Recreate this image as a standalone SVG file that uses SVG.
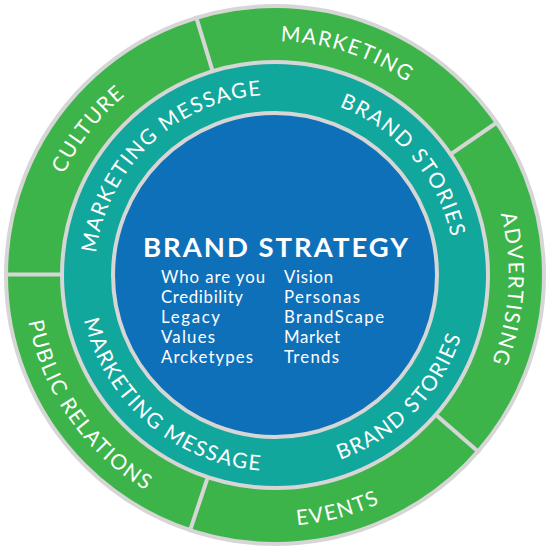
<svg xmlns="http://www.w3.org/2000/svg" xmlns:xlink="http://www.w3.org/1999/xlink" width="550" height="553" viewBox="0 0 550 553">
<style>
.ring{stroke:#d6d6d6;stroke-width:4}
.div{stroke:#d6d6d6;stroke-width:4;fill:none}
.lbl{font-family:Lato,"Open Sans","Liberation Sans",sans-serif;font-size:21px;fill:#ffffff;letter-spacing:1.5px}
.title{font-family:Lato,"Open Sans","Liberation Sans",sans-serif;font-size:27.5px;font-weight:bold;fill:#ffffff}
.item{font-family:Lato,"Open Sans","Liberation Sans",sans-serif;font-size:16.8px;fill:#ffffff}
</style>
<defs>
<path id="pMarketing" d="M59.6,183.6 A234,234 0 0 1 503.0,327.6"/>
<path id="pCulture" d="M115.4,446.1 A234,234 0 0 1 402.4,78.7"/>
<path id="pAdvertising" d="M309.6,43.6 A234,234 0 0 1 281.1,508.9"/>
<path id="pPublic" d="M113.7,82.7 A251,251 0 0 0 400.5,492.4"/>
<path id="pEvents" d="M39.1,360.8 A251,251 0 0 0 522.2,231.4"/>
<path id="pMsgTop" d="M134.1,387.1 A180,180 0 0 1 394.3,140.2"/>
<path id="pStoriesTop" d="M170.7,128.3 A180,180 0 0 1 403.2,401.4"/>
<path id="pStoriesBot" d="M150.9,426.7 A196,196 0 0 0 423.6,147.2"/>
<path id="pMsgBot" d="M115.2,161.5 A196,196 0 0 0 412.6,414.6"/>
</defs>
<rect width="550" height="553" fill="#ffffff"/>
<g id="outer-ring">
<circle class="ring" cx="275" cy="275" r="269" fill="#3cb44a"/>
</g>
<g id="connectors">
<line class="div" x1="212.7" y1="71.3" x2="195.8" y2="15.8"/>
<line class="div" x1="450.5" y1="154.4" x2="498.3" y2="121.5"/>
<line class="div" x1="435.8" y1="414.7" x2="479.5" y2="452.8"/>
<line class="div" x1="207.8" y1="477.1" x2="189.5" y2="532.2"/>
<line class="div" x1="62" y1="274.5" x2="4" y2="274.5"/>
</g>
<g id="marketing"><text class="lbl" text-anchor="middle"><textPath xlink:href="#pMarketing" href="#pMarketing" startOffset="50%">MARKETING</textPath></text></g>
<g id="culture"><text class="lbl" text-anchor="middle"><textPath xlink:href="#pCulture" href="#pCulture" startOffset="50%">CULTURE</textPath></text></g>
<g id="advertising"><text class="lbl" text-anchor="middle"><textPath xlink:href="#pAdvertising" href="#pAdvertising" startOffset="50%">ADVERTISING</textPath></text></g>
<g id="public-relations"><text class="lbl" text-anchor="middle"><textPath xlink:href="#pPublic" href="#pPublic" startOffset="50%">PUBLIC RELATIONS</textPath></text></g>
<g id="events"><text class="lbl" text-anchor="middle"><textPath xlink:href="#pEvents" href="#pEvents" startOffset="50%">EVENTS</textPath></text></g>
<g id="middle-ring">
<circle class="ring" cx="275" cy="275" r="213" fill="#12a79c"/>
<text class="lbl" text-anchor="middle"><textPath xlink:href="#pMsgTop" href="#pMsgTop" startOffset="50%">MARKETING MESSAGE</textPath></text>
<text class="lbl" text-anchor="middle"><textPath xlink:href="#pStoriesTop" href="#pStoriesTop" startOffset="50%">BRAND STORIES</textPath></text>
<text class="lbl" text-anchor="middle"><textPath xlink:href="#pStoriesBot" href="#pStoriesBot" startOffset="50%">BRAND STORIES</textPath></text>
<text class="lbl" text-anchor="middle"><textPath xlink:href="#pMsgBot" href="#pMsgBot" startOffset="50%">MARKETING MESSAGE</textPath></text>
</g>
<g id="brand-strategy">
<circle class="ring" cx="275" cy="275" r="162" fill="#0f70ba"/>
<text class="title" x="143" y="257" textLength="265">BRAND STRATEGY</text>
<text class="item" x="161" y="282.5" textLength="104">Who are you</text>
<text class="item" x="161" y="303" textLength="82">Credibility</text>
<text class="item" x="161" y="323" textLength="59">Legacy</text>
<text class="item" x="161" y="343" textLength="54">Values</text>
<text class="item" x="161" y="363" textLength="92">Arcketypes</text>
<text class="item" x="284" y="282.5" textLength="49">Vision</text>
<text class="item" x="284" y="303" textLength="76">Personas</text>
<text class="item" x="284" y="323" textLength="100">BrandScape</text>
<text class="item" x="284" y="343" textLength="56">Market</text>
<text class="item" x="284" y="363" textLength="55">Trends</text>
</g>
</svg>
